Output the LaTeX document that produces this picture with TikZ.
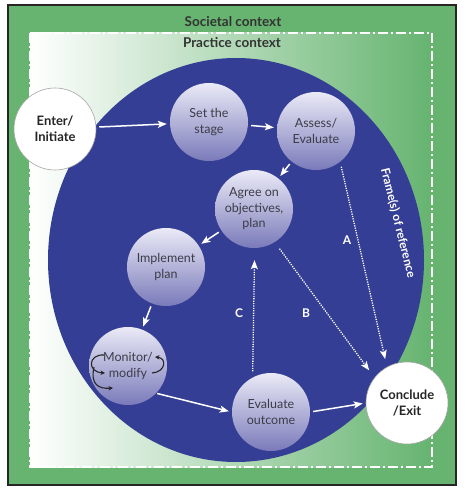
\documentclass[tikz,border=0pt]{standalone}
\usepackage{fontspec}
\setmainfont{Lato}
\usetikzlibrary{arrows.meta}
\definecolor{grn}{RGB}{102,180,112}
\definecolor{dblue}{RGB}{52,62,148}
\definecolor{ctop}{RGB}{234,234,247}
\definecolor{cbot}{RGB}{122,122,186}
\definecolor{txt}{RGB}{60,60,72}
\begin{document}
\begin{tikzpicture}[x=1pt,y=-1pt,
  stagenode/.style={circle, minimum size=78pt, inner sep=0pt, top color=ctop, bottom color=cbot, align=center, font=\fontsize{12.5}{15.5}\selectfont, text=txt},
  endnode/.style={circle, minimum size=82pt, inner sep=0pt, fill=white, draw=gray!70, line width=0.6pt, align=center, font=\bfseries\fontsize{13}{16}\selectfont, text=black!85},
  flow/.style={draw=white, line width=1.5pt, shorten <=3pt, shorten >=3pt, -{Stealth[length=9pt,width=7pt,inset=2pt]}},
  dotflow/.style={draw=white, line width=1.3pt, dash pattern=on 1.2pt off 1.2pt, -{Stealth[length=9pt,width=7pt,inset=2pt]}},
  mon/.style={draw=black!85, line width=1.1pt, -{Stealth[length=4.5pt,width=4.5pt]}},
  lbl/.style={text=white, font=\bfseries\fontsize{12}{14}\selectfont},
  ttl/.style={text=black!80, font=\bfseries\fontsize{13.5}{16}\selectfont}
]
\useasboundingbox (0,0) rectangle (467,500);
\fill[white] (0,0) rectangle (467,500);
% societal context
\filldraw[fill=grn, draw=black!85, line width=1.4pt] (8,5) rectangle (456,485);
% practice context
\shade[left color=white, right color=grn] (30,33) rectangle (432,467);
\draw[white, line width=2pt, dash pattern=on 10pt off 3pt on 2pt off 3pt] (30,33) rectangle (432,467);
\node[ttl] (soc) at (233,22) {Societal context};
\node[ttl] (prac) at (232,43) {Practice context};
% frame of reference
\fill[dblue] (236,260) ellipse [x radius=188, y radius=202];
\node[lbl, rotate=-76] (frame) at (398,223) {Frame(s) of reference};
% nodes
\node[endnode] (enter) at (55,129) {Enter/\\Initiate};
\node[stagenode] (set) at (209,122) {Set the\\stage};
\node[stagenode] (assess) at (316,131) {Assess/\\Evaluate};
\node[stagenode] (agree) at (254,209) {Agree on\\objectives,\\plan};
\node[stagenode] (impl) at (166,267) {Implement\\plan};
\node[stagenode] (monitor) at (128,366) {Monitor/\\modify};
\node[stagenode] (eval) at (271,412) {Evaluate\\outcome};
\node[endnode] (concl) at (407,403) {Conclude\\/Exit};
% solid flow
\draw[flow] (enter) -- (set);
\draw[flow] (set) -- (assess);
\draw[flow] (assess) -- (agree);
\draw[flow] (agree) -- (impl);
\draw[flow] (impl) -- (monitor);
\draw[flow, shorten <=1pt] (monitor.-44) -- (eval.180);
\draw[flow] (eval.0) -- (concl.180);
% dotted
\draw[dotflow, shorten <=5pt, shorten >=8pt] (assess.-52) -- (concl.119);
\draw[dotflow, shorten <=8pt, shorten >=9pt] (agree.-58) -- (concl.142);
\draw[dotflow, shorten <=6pt, shorten >=12pt] (eval.118) -- (agree.-89);
\node[lbl] (la) at (347,240) {A};
\node[lbl] (lb) at (306,313) {B};
\node[lbl] (lc) at (239,313) {C};
% monitor/modify loops
\draw[mon] (104,355) .. controls (88,354) and (87,372) .. (105,373);
\draw[mon] (94,367) .. controls (90,385) and (99,389) .. (113,388);
\draw[mon] (152,373) .. controls (166,372) and (167,358) .. (155,357);
\end{tikzpicture}
\end{document}
